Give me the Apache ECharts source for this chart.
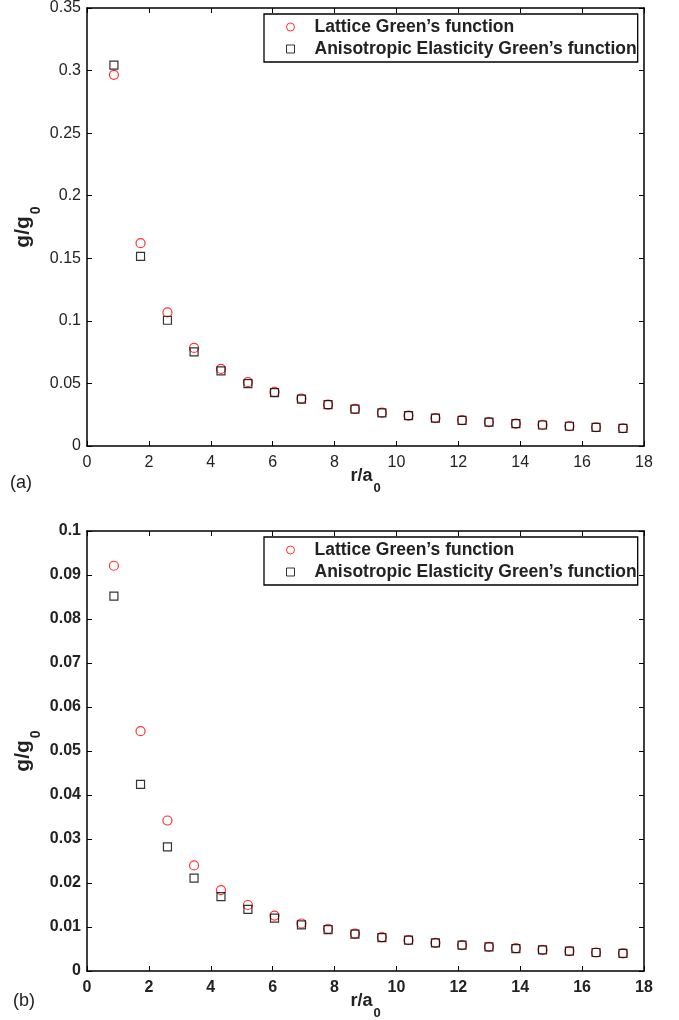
<!DOCTYPE html>
<html>
<head>
<meta charset="utf-8">
<script src="https://cdn.jsdelivr.net/npm/echarts@6/dist/echarts.min.js"></script>
<style>
  html, body { margin: 0; padding: 0; background: #fff; }
  #chart { width: 679px; height: 1020px; }
</style>
</head>
<body>
<div id="chart"></div>
<script>
// Normalised separation r/a0 of each neighbour shell
const rOverA0 = [0.87, 1.73, 2.60, 3.46, 4.33, 5.20, 6.06, 6.93, 7.79, 8.66,
                 9.53, 10.39, 11.26, 12.12, 12.99, 13.86, 14.72, 15.59, 16.45, 17.32];

// Panel (a)
const latticeA = [0.2966, 0.1621, 0.1067, 0.0784, 0.0616, 0.0510, 0.0432, 0.0379, 0.0331, 0.0296,
                  0.0266, 0.0243, 0.0223, 0.0206, 0.0191, 0.0179, 0.0169, 0.0159, 0.0150, 0.0142];
const elasticA = [0.3043, 0.1515, 0.1005, 0.0752, 0.0601, 0.0499, 0.0427, 0.0374, 0.0330, 0.0295,
                  0.0265, 0.0242, 0.0222, 0.0205, 0.0190, 0.0178, 0.0168, 0.0158, 0.0149, 0.0141];

// Panel (b)
const latticeB = [0.0921, 0.0545, 0.0342, 0.0240, 0.0184, 0.0150, 0.0126, 0.0108, 0.0096, 0.0085,
                  0.0077, 0.0070, 0.0064, 0.0059, 0.0055, 0.0052, 0.0048, 0.0045, 0.0042, 0.0040];
const elasticB = [0.0852, 0.0424, 0.0282, 0.0211, 0.0169, 0.0140, 0.0120, 0.0105, 0.0094, 0.0084,
                  0.0076, 0.0070, 0.0064, 0.0059, 0.0055, 0.0051, 0.0048, 0.0045, 0.0042, 0.0040];

const xTicks = { min: 0, max: 18, interval: 2 };
const yTicksA = { min: 0, max: 0.35, interval: 0.05 };
const yTicksB = { min: 0, max: 0.1, interval: 0.01 };

const panelLabels = ['(a)', '(b)'];
const seriesNames = ['Lattice Green\u2019s function', 'Anisotropic Elasticity Green\u2019s function'];

const FONT = '"Liberation Sans", Arial, Helvetica, sans-serif';
const INK = '#000';
const TEXT = '#222';

const grids = [
  { left: 87, top: 8, width: 557, height: 438 },
  { left: 87, top: 531, width: 557, height: 440 }
];

const pairs = (ys) => rOverA0.map((r, i) => [r, ys[i]]);
const fmt = (v) => String(+v.toFixed(4));

// axis titles: bold main text with a dropped subscript
const xNameRich = {
  m: { fontSize: 18, fontWeight: 'bold', fontFamily: FONT, color: TEXT, lineHeight: 18, verticalAlign: 'top' },
  s: { fontSize: 13, fontWeight: 'bold', fontFamily: FONT, color: TEXT, lineHeight: 13, verticalAlign: 'top', padding: [15, 0, 0, 1] }
};
const yNameRich = {
  m: { fontSize: 21, fontWeight: 'bold', fontFamily: FONT, color: TEXT, lineHeight: 21, verticalAlign: 'top' },
  s: { fontSize: 14, fontWeight: 'bold', fontFamily: FONT, color: TEXT, lineHeight: 14, verticalAlign: 'top', padding: [16, 0, 0, 2] }
};

const squareIcon = 'path://M0,0L10,0L10,10L0,10Z';

function xAxes(gi, bold) {
  return [
    {
      type: 'value', gridIndex: gi, position: 'bottom', ...xTicks,
      name: '{m|r/a}{s|0}', nameLocation: 'middle', nameGap: 21, nameMoveOverlap: false,
      nameTextStyle: { rich: xNameRich },
      axisLine: { show: true, onZero: false, lineStyle: { color: INK, width: 1.5 } },
      axisTick: { show: true, inside: true, length: 5, lineStyle: { color: INK, width: 1 } },
      axisLabel: { margin: 9, fontSize: 16, fontFamily: FONT, color: TEXT, fontWeight: bold ? 'bold' : 'normal' },
      splitLine: { show: false }
    },
    {
      type: 'value', gridIndex: gi, position: 'top', ...xTicks,
      axisLine: { show: true, onZero: false, lineStyle: { color: INK, width: 1.5 } },
      axisTick: { show: true, inside: true, length: 5, lineStyle: { color: INK, width: 1 } },
      axisLabel: { show: false },
      splitLine: { show: false }
    }
  ];
}

function yAxes(gi, ticks, bold) {
  return [
    {
      type: 'value', gridIndex: gi, position: 'left', ...ticks,
      name: '{m|g/g}{s|0}', nameLocation: 'middle', nameGap: 53, nameRotate: 90, nameMoveOverlap: false,
      nameTextStyle: { rich: yNameRich },
      axisLine: { show: true, onZero: false, lineStyle: { color: INK, width: 1.5 } },
      axisTick: { show: true, inside: true, length: 5, lineStyle: { color: INK, width: 1 } },
      axisLabel: { margin: 6, fontSize: 16, fontFamily: FONT, color: TEXT, fontWeight: bold ? 'bold' : 'normal', formatter: fmt },
      splitLine: { show: false }
    },
    {
      type: 'value', gridIndex: gi, position: 'right', ...ticks,
      axisLine: { show: true, onZero: false, lineStyle: { color: INK, width: 1.5 } },
      axisTick: { show: true, inside: true, length: 5, lineStyle: { color: INK, width: 1 } },
      axisLabel: { show: false },
      splitLine: { show: false }
    }
  ];
}

function scatterPair(gi, lattice, elastic) {
  return [
    {
      name: seriesNames[0], type: 'scatter', xAxisIndex: gi * 2, yAxisIndex: gi * 2,
      symbol: 'circle', symbolSize: 9,
      itemStyle: { color: 'rgba(255,255,255,0)', borderColor: '#ff0000', borderWidth: 1.2 },
      data: pairs(lattice), z: 3
    },
    {
      name: seriesNames[1], type: 'scatter', xAxisIndex: gi * 2, yAxisIndex: gi * 2,
      symbol: 'rect', symbolSize: 8,
      itemStyle: { color: 'rgba(255,255,255,0)', borderColor: '#000', borderWidth: 1.2 },
      data: pairs(elastic), z: 4
    }
  ];
}

function legendAt(top) {
  return {
    data: [
      { name: seriesNames[0], icon: 'circle' },
      { name: seriesNames[1], icon: squareIcon }
    ],
    orient: 'vertical', left: 264, top: top,
    backgroundColor: '#fff', borderColor: INK, borderWidth: 1.3,
    padding: [4, 1, 4, 22], itemWidth: 38, itemHeight: 8, itemGap: 4,
    symbolKeepAspect: true,
    selectedMode: false,
    itemStyle: { borderWidth: 1 },
    textStyle: { fontSize: 17.5, fontWeight: 'bold', fontFamily: FONT, color: TEXT, lineHeight: 18 }
  };
}

const chart = echarts.init(document.getElementById('chart'), null, { renderer: 'canvas' });
chart.setOption({
  animation: false,
  backgroundColor: '#fff',
  grid: grids.map(g => ({ ...g, containLabel: false, outerBoundsMode: 'none' })),
  xAxis: [...xAxes(0, false), ...xAxes(1, true)],
  yAxis: [...yAxes(0, yTicksA, false), ...yAxes(1, yTicksB, true)],
  legend: [legendAt(14), legendAt(537)],
  series: [...scatterPair(0, latticeA, elasticA), ...scatterPair(1, latticeB, elasticB)],
  graphic: [
    { type: 'text', left: 10, top: 474, style: { text: panelLabels[0], font: '18px ' + FONT, fill: TEXT } },
    { type: 'text', left: 13, top: 992, style: { text: panelLabels[1], font: '18px ' + FONT, fill: TEXT } }
  ]
});
</script>
</body>
</html>
